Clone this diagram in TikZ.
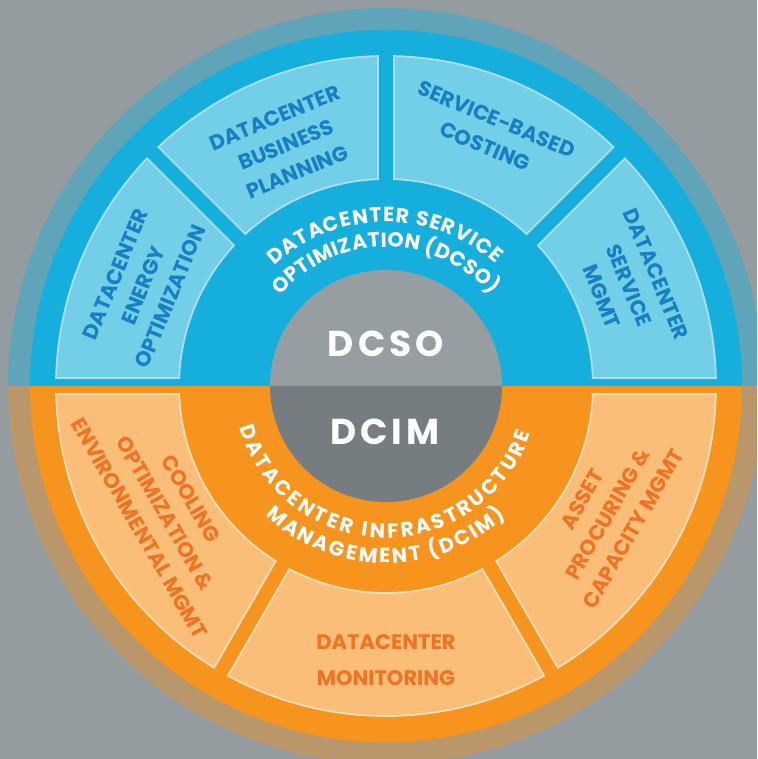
\documentclass[tikz,border=0pt]{standalone}
\usepackage{fontspec}
\setmainfont{Poppins}
\usetikzlibrary{decorations.text}
\definecolor{bg}{RGB}{149,156,160}
\definecolor{ringUp}{RGB}{96,164,185}
\definecolor{ringDn}{RGB}{186,151,107}
\definecolor{bandUp}{RGB}{21,174,221}
\definecolor{bandDn}{RGB}{247,148,30}
\definecolor{boxUp}{RGB}{115,206,232}
\definecolor{boxUpLine}{RGB}{168,224,242}
\definecolor{boxDn}{RGB}{250,190,120}
\definecolor{boxDnLine}{RGB}{253,222,185}
\definecolor{txtUp}{RGB}{24,127,194}
\definecolor{txtDn}{RGB}{240,115,35}
\definecolor{coreUp}{RGB}{151,158,161}
\definecolor{coreDn}{RGB}{118,125,128}

\newcommand\boxfont{\bfseries\fontsize{21}{29.5}\selectfont}
\newcommand\bandfont{\bfseries\fontsize{20.5}{24}\selectfont}

\newcommand\ringsegment[3]{%
  \pgfmathsetmacro\segSa{#1+asin(8/330)}%
  \pgfmathsetmacro\segEa{#2-asin(8/330)}%
  \pgfmathsetmacro\segSb{#2-asin(8/207)}%
  \pgfmathsetmacro\segEb{#1+asin(8/207)}%
  \draw[#3] (\segSa:330pt) arc[start angle=\segSa, end angle=\segEa, radius=330pt]
     -- (\segSb:207pt) arc[start angle=\segSb, end angle=\segEb, radius=207pt] -- cycle;%
}

\begin{document}
\begin{tikzpicture}[x=1pt,y=1pt,
  upbox/.style={fill=boxUp, draw=boxUpLine, line width=1.8pt},
  dnbox/.style={fill=boxDn, draw=boxDnLine, line width=1.8pt},
  uplabel/.style={text=txtUp, font=\boxfont, align=center, inner sep=0pt},
  dnlabel/.style={text=txtDn, font=\boxfont, align=center, inner sep=0pt},
  corelabel/.style={text=white, font=\bfseries\fontsize{36}{36}\selectfont, inner sep=0pt}]

\useasboundingbox (-386,-373) rectangle (371,386);
\clip (-386,-373) rectangle (371,386);
\fill[bg] (-386,-373) rectangle (371,386);

% outer ring
\fill[ringUp] (0:378pt) arc[start angle=0, end angle=180, radius=378pt] -- cycle;
\fill[ringDn] (180:378pt) arc[start angle=180, end angle=360, radius=378pt] -- cycle;
% main band
\fill[bandUp] (0:356pt) arc[start angle=0, end angle=180, radius=356pt] -- cycle;
\fill[bandDn] (180:356pt) arc[start angle=180, end angle=360, radius=356pt] -- cycle;

% segments
\ringsegment{135}{180}{upbox}
\ringsegment{90}{135}{upbox}
\ringsegment{45}{90}{upbox}
\ringsegment{0}{45}{upbox}
\ringsegment{180}{240}{dnbox}
\ringsegment{240}{300}{dnbox}
\ringsegment{300}{360}{dnbox}

% core
\fill[coreUp] (0:116pt) arc[start angle=0, end angle=180, radius=116pt] -- cycle;
\fill[coreDn] (180:116pt) arc[start angle=180, end angle=360, radius=116pt] -- cycle;

\node[corelabel] (dcso) at (0,42) {D\kern4pt C\kern4pt S\kern4pt O};
\node[corelabel] (dcim) at (-1,-46) {D\kern4pt C\kern4pt I\kern4pt M};

% band texts
\path[decorate, decoration={text along path, text align=fit to path, text color=white,
  text={|\bandfont|DATACENTER SERVICE}}]
  (133:164pt) arc[start angle=133, end angle=48, radius=164pt];
\path[decorate, decoration={text along path, text align=fit to path, text color=white,
  text={|\bandfont|OPTIMIZATION (DCSO)}}]
  (139.5:139pt) arc[start angle=139.5, end angle=41, radius=139pt];
\path[decorate, decoration={text along path, text align=fit to path, text color=white,
  text={|\bandfont|DATACENTER INFRASTRUCTURE}}]
  (196:152pt) arc[start angle=196, end angle=342, radius=152pt];
\path[decorate, decoration={text along path, text align=fit to path, text color=white,
  text={|\bandfont|MANAGEMENT (DCIM)}}]
  (227:177pt) arc[start angle=227, end angle=312.5, radius=177pt];

% segment labels
\node[uplabel, rotate=67.5] (energy) at (157.5:263pt) {DATACENTER\\ENERGY\\OPTIMIZATION};
\node[uplabel, rotate=22.5] (business) at (112.5:261pt) {DATACENTER\\BUSINESS\\PLANNING};
\node[uplabel, rotate=-22.5] (costing) at (67.5:274pt) {SERVICE-BASED\\COSTING};
\node[uplabel, rotate=-67.5] (svcmgmt) at (22.5:263pt) {DATACENTER\\SERVICE\\MGMT};
\node[dnlabel, rotate=-60] (cooling) at (210:255pt) {COOLING\\OPTIMIZATION \&\\ENVIRONMENTAL MGMT};
\node[dnlabel, font=\bfseries\fontsize{21}{36}\selectfont] (monitor) at (270:274pt) {DATACENTER\\MONITORING};
\node[dnlabel, rotate=60] (asset) at (330:256pt) {ASSET\\PROCURING \&\\CAPACITY MGMT};
\end{tikzpicture}
\end{document}
